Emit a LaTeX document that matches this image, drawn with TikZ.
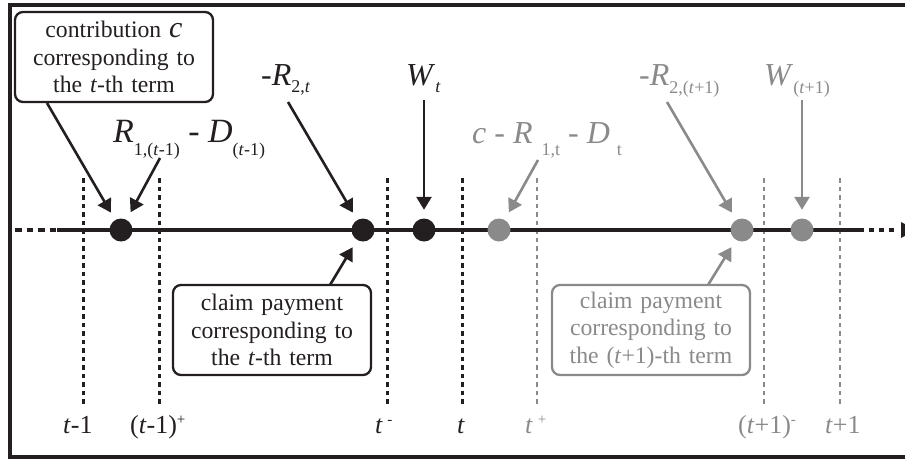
\documentclass[tikz,border=0pt]{standalone}
\usepackage{fontspec}
\setmainfont{Liberation Serif}
\usetikzlibrary{arrows.meta}
\definecolor{ink}{RGB}{35,31,32}
\definecolor{wgray}{RGB}{138,138,138}
\newcommand\fsz[1]{\fontsize{#1}{#1}\selectfont}
\newcommand\mysub[3]{\raisebox{-#1pt}{\fsz{#2}#3}}
\tikzset{
  lbl/.style={inner sep=0pt, anchor=base west},
  bdot/.style={circle, fill=ink, minimum size=23pt, inner sep=0pt},
  gdot/.style={circle, fill=wgray, minimum size=23pt, inner sep=0pt},
  arr/.style={line width=2.6pt, -{Triangle[length=13pt,width=15pt]}, shorten >=8.5pt},
  vblack/.style={line width=3pt, dash pattern=on 4.5pt off 4pt, ink},
  vgray/.style={line width=2.4pt, dash pattern=on 4.5pt off 4pt, wgray},
  infobox/.style={draw, rounded corners=8pt, line width=2.3pt, minimum width=198pt, minimum height=90pt,
    text width=190pt, align=center, inner sep=0pt, font=\fontsize{23.7}{27.5}\selectfont},
  tlab/.style={lbl, font=\fsz{26}}
}
\begin{document}
\begin{tikzpicture}[x=1pt, y=-1pt]
\useasboundingbox (0,0) rectangle (905,459);
% frame
\draw[line width=3.8pt, ink] (10,5) rectangle (915,457);
% vertical dotted lines
\foreach \xx in {83,159,387,462} \draw[vblack] (\xx,178) -- (\xx,404);
\foreach \xx in {537,764,840} \draw[vgray] (\xx,178) -- (\xx,404);
% timeline
\draw[line width=4.8pt, ink, dash pattern=on 6.5pt off 5pt] (15,230) -- (57,230);
\draw[line width=4.8pt, ink] (57,230) -- (864,230);
\draw[line width=4.8pt, ink, dash pattern=on 5pt off 5pt] (869,230) -- (896,230);
\fill[ink] (901,222) -- (916,230) -- (901,238) -- cycle;
% dots
\node[bdot] (d1) at (121,230) {};
\node[bdot] (d2) at (363,230) {};
\node[bdot] (d3) at (424,230) {};
\node[gdot] (g1) at (499,230) {};
\node[gdot] (g2) at (742,230) {};
\node[gdot] (g3) at (802,230) {};
% boxes
\node[infobox, ink] (b1) at (114,57) {contribution {\fsz{30}\textit{c}}\\corresponding to\\the \textit{t}-th term};
\node[infobox, ink] (b2) at (272,330) {claim payment\\corresponding to\\the \textit{t}-th term};
\node[infobox, wgray] (b3) at (651,330) {claim payment\\corresponding to\\the (\textit{t}+1)-th term};
% labels
\node[lbl, ink] (lR1) at (113,142) {\fsz{34}\textit{R}\mysub{13}{18}{1,(\textit{t}-1)} - \textit{D}\mysub{13}{18}{(\textit{t}-1)}};
\node[lbl, ink] (lR2) at (261,85) {\fsz{32}-\textit{R}\mysub{7}{18}{2,\textit{t}}};
\node[lbl, ink] (lW) at (406,85) {\fsz{32}\textit{W}\mysub{7}{18}{\textit{t}}};
\node[lbl, wgray] (lC) at (472,143) {\fsz{32}\textit{c} - \textit{R}\hspace{9pt}\mysub{12}{18}{1,t} - \textit{D}\hspace{7pt}\mysub{12}{18}{t}};
\node[lbl, wgray] (lR2b) at (639,85) {\fsz{32}-\textit{R}\mysub{8}{18}{2,(\textit{t}+1)}};
\node[lbl, wgray] (lWb) at (764,85) {\fsz{32}\textit{W}\mysub{8}{18}{(\textit{t}+1)}};
% bottom labels
\node[tlab, ink] (t1) at (63,433) {\textit{t}-1};
\node[tlab, ink] (t2) at (130,433) {(\textit{t}-1)\raisebox{9pt}{\fsz{15}+}};
\node[tlab, ink] (t3) at (375,433) {\textit{t}\,\raisebox{9pt}{\fsz{15}-}};
\node[tlab, ink] (t4) at (457,433) {\textit{t}};
\node[tlab, wgray] (t5) at (525,433) {\textit{t}\hspace{5pt}\raisebox{9pt}{\fsz{15}+}};
\node[tlab, wgray] (t6) at (738,433) {(\textit{t}+1)\raisebox{9pt}{\fsz{15}-}};
\node[tlab, wgray] (t7) at (825,433) {\textit{t}+1};
% arrow start points
\coordinate (s1) at (47,103);
\coordinate (s2) at (160,158);
\coordinate (s3) at (288,102);
\coordinate (s4) at (424,100);
\coordinate (s5) at (538,160);
\coordinate (s6) at (667,102);
\coordinate (s7) at (802,100);
\coordinate (s8) at (330,285);
\coordinate (s9) at (708,285);
% arrows
\draw[arr, ink] (s1) -- (d1);
\draw[arr, ink] (s2) -- (d1);
\draw[arr, ink] (s3) -- (d2);
\draw[arr, ink] (s4) -- (d3);
\draw[arr, ink] (s8) -- (d2);
\draw[arr, wgray] (s5) -- (g1);
\draw[arr, wgray] (s6) -- (g2);
\draw[arr, wgray] (s7) -- (g3);
\draw[arr, wgray] (s9) -- (g2);
\end{tikzpicture}
\end{document}
